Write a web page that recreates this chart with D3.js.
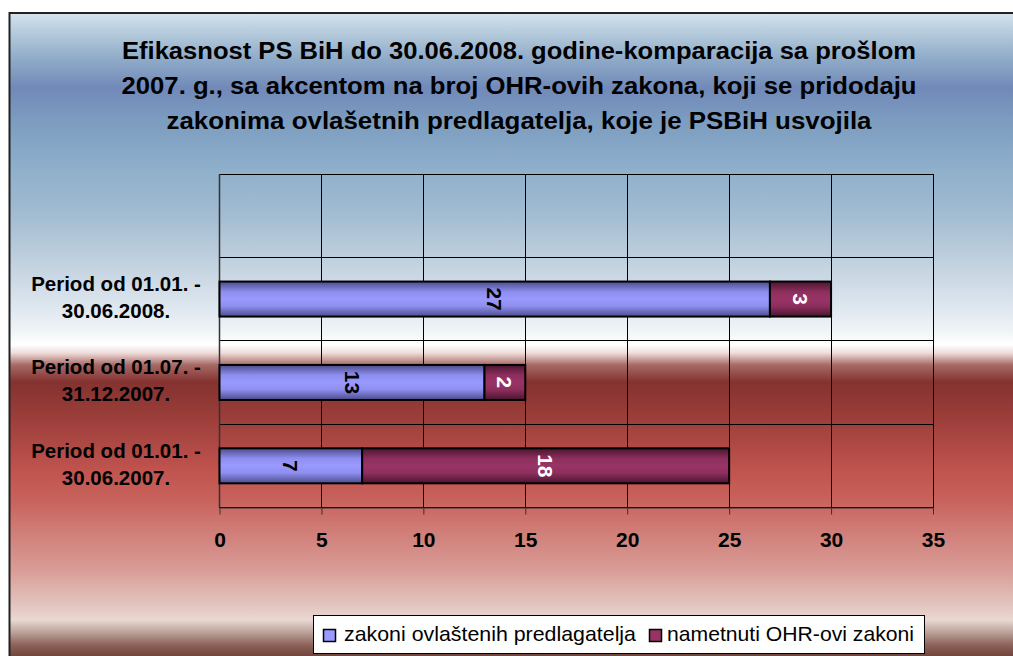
<!DOCTYPE html>
<html>
<head>
<meta charset="utf-8">
<script src="https://cdn.jsdelivr.net/npm/d3@7"></script>
<style>
  html, body { margin: 0; padding: 0; background: #ffffff; }
  svg { display: block; font-family: "Liberation Sans", Arial, sans-serif; }
</style>
</head>
<body>
<svg id="chart" width="1013" height="656"></svg>
<script>
// ---- data ----
const titleLines = [
  "Efikasnost PS BiH do 30.06.2008. godine-komparacija sa prošlom",
  "2007. g., sa akcentom na broj OHR-ovih zakona, koji se pridodaju",
  "zakonima ovlašetnih predlagatelja, koje je PSBiH usvojila"
];
// categories top to bottom (the top slot is empty in the original)
const categories = ["", "Period od 01.01. - 30.06.2008.", "Period od 01.07. - 31.12.2007.", "Period od 01.01. - 30.06.2007."];
const categoryLines = [[], ["Period od 01.01. -", "30.06.2008."], ["Period od 01.07. -", "31.12.2007."], ["Period od 01.01. -", "30.06.2007."]];
const seriesNames = ["zakoni ovlaštenih predlagatelja", "nametnuti OHR-ovi zakoni"];
const zakoniOvlastenih = [null, 27, 13, 7];
const nametnutiOHR = [null, 3, 2, 18];
const xTicks = [0, 5, 10, 15, 20, 25, 30, 35];

// ---- setup ----
const svg = d3.select("#chart");
const W = 1013, H = 656;
const plot = { left: 219.5, right: 933, top: 174, bottom: 507.5 };

const defs = svg.append("defs");
const bg = defs.append("linearGradient").attr("id", "bgGrad")
  .attr("gradientUnits", "userSpaceOnUse").attr("x1", 0).attr("x2", 0).attr("y1", 13).attr("y2", 660);
const bgStops = [
  [13, "#d5e3ee"], [35, "#b2c8da"], [60, "#8eaac8"], [88, "#7189b8"], [120, "#7c9cc0"],
  [170, "#8fb0cb"], [210, "#a0bad0"], [260, "#bfd0de"], [300, "#d9e3ec"], [330, "#eff3f7"],
  [345, "#ffffff"], [353, "#eedcd9"], [365, "#a66a66"], [382, "#843230"], [420, "#9d3f3b"],
  [470, "#c0534e"], [500, "#c8625c"], [530, "#d07c76"], [570, "#d99c97"], [600, "#e1bfb9"],
  [620, "#e9d8d2"], [632, "#bca49c"], [645, "#8c6259"], [660, "#683a32"]
];
bgStops.forEach(([y, c]) => bg.append("stop").attr("offset", (y - 13) / (660 - 13)).attr("stop-color", c));

function barGrad(id, edge, mid, center) {
  const g = defs.append("linearGradient").attr("id", id).attr("x1", 0).attr("x2", 0).attr("y1", 0).attr("y2", 1);
  [[0, edge], [0.3, mid], [0.5, center], [0.7, mid], [1, edge]].forEach(([o, c]) =>
    g.append("stop").attr("offset", o).attr("stop-color", c));
}
barGrad("gBlue", "#4c4c8c", "#8f8ff0", "#9999ff");
barGrad("gCrimson", "#4a1530", "#8e2f5e", "#993366");
const fills = ["url(#gBlue)", "url(#gCrimson)"];
const flatColors = ["#9999ff", "#993366"];
const labelColors = ["#000000", "#ffffff"];

// chart area background
svg.append("rect").attr("x", 9.5).attr("y", 13).attr("width", W + 20).attr("height", H + 20)
  .attr("fill", "url(#bgGrad)").attr("stroke", "#222").attr("stroke-width", 2);

// title
const title = svg.append("g");
const titleWidths = [794, 795, 705];
titleLines.forEach((t, i) => {
  title.append("text").attr("x", 519).attr("y", 59 + i * 35)
    .attr("text-anchor", "middle").attr("font-size", 23).attr("font-weight", "bold")
    .attr("fill", "#000")
    .attr("textLength", titleWidths[i]).attr("lengthAdjust", "spacingAndGlyphs")
    .text(t);
});

// scales
const x = d3.scaleLinear().domain([0, 35]).range([plot.left, plot.right]);
const y = d3.scaleBand().domain(categories.map((c, i) => i)).range([plot.top, plot.bottom])
  .paddingInner(0.58).paddingOuter(0.29);

// gridlines (vertical at ticks)
const grid = svg.append("g");
grid.selectAll("line.v").data(xTicks).join("line")
  .attr("x1", d => x(d)).attr("x2", d => x(d)).attr("y1", plot.top).attr("y2", plot.bottom)
  .attr("stroke", "#000").attr("stroke-width", 1).attr("shape-rendering", "crispEdges");
// horizontal category gridlines at band boundaries
const bounds = d3.range(categories.length + 1).map(i => plot.top + i * (plot.bottom - plot.top) / categories.length);
grid.selectAll("line.h").data(bounds).join("line")
  .attr("x1", plot.left).attr("x2", plot.right).attr("y1", d => d).attr("y2", d => d)
  .attr("stroke", "#000").attr("stroke-width", 1).attr("shape-rendering", "crispEdges");

// x axis
const xAxis = d3.axisBottom(x).tickValues(xTicks).tickSize(7).tickPadding(18).tickSizeOuter(0);
const gx = svg.append("g").attr("transform", `translate(0,${plot.bottom})`).call(xAxis);
gx.select(".domain").attr("stroke", "#333");
gx.selectAll(".tick line").attr("stroke", "#333");
gx.selectAll(".tick text").attr("font-size", 21).attr("font-weight", "bold").attr("fill", "#000")
  .attr("font-family", "'Liberation Sans', Arial, sans-serif").attr("dy", null).attr("y", 39);

// y axis line
svg.append("line").attr("x1", plot.left).attr("x2", plot.left).attr("y1", plot.top).attr("y2", plot.bottom)
  .attr("stroke", "#333").attr("stroke-width", 1.5);

// category labels
const catG = svg.append("g");
categoryLines.forEach((lines, i) => {
  const cy = y(i) + y.bandwidth() / 2;
  lines.forEach((ln, j) => {
    catG.append("text").attr("x", 116).attr("y", cy - 8 + j * 27)
      .attr("text-anchor", "middle").attr("font-size", 20.5).attr("font-weight", "bold").attr("fill", "#000")
      .text(ln);
  });
});

// stacked bars
const rows = categories.map((c, i) => ({ i, a: zakoniOvlastenih[i], b: nametnutiOHR[i] }))
  .filter(d => d.a != null);
const stacked = d3.stack().keys(["a", "b"])(rows);
const barsG = svg.append("g");
stacked.forEach((layer, si) => {
  const g = barsG.append("g");
  g.selectAll("rect").data(layer).join("rect")
    .attr("x", d => x(d[0])).attr("width", d => x(d[1]) - x(d[0]))
    .attr("y", d => y(d.data.i)).attr("height", y.bandwidth())
    .attr("fill", fills[si]).attr("stroke", "#000").attr("stroke-width", 2);
  g.selectAll("text").data(layer).join("text")
    .attr("transform", d => {
      const cx = (x(d[0]) + x(d[1])) / 2, cy = y(d.data.i) + y.bandwidth() / 2;
      return `translate(${cx},${cy}) rotate(90)`;
    })
    .attr("text-anchor", "middle").attr("dominant-baseline", "central")
    .attr("font-size", 21).attr("font-weight", "bold").attr("fill", labelColors[si])
    .text(d => d[1] - d[0]);
});

// legend
const leg = svg.append("g");
leg.append("rect").attr("x", 313.5).attr("y", 615.5).attr("width", 611).attr("height", 38)
  .attr("fill", "#fff").attr("stroke", "#000").attr("stroke-width", 1);
const legItems = [
  { mx: 323, tx: 344, w: 292 },
  { mx: 649, tx: 667, w: 247 }
];
seriesNames.forEach((name, i) => {
  leg.append("rect").attr("x", legItems[i].mx + 0.5).attr("y", 629.5).attr("width", 12).attr("height", 12)
    .attr("fill", flatColors[i]).attr("stroke", "#000").attr("stroke-width", 1.5);
  leg.append("text").attr("x", legItems[i].tx).attr("y", 641)
    .attr("font-size", 21).attr("fill", "#000")
    .attr("textLength", legItems[i].w).attr("lengthAdjust", "spacingAndGlyphs")
    .text(name);
});
</script>
</body>
</html>
